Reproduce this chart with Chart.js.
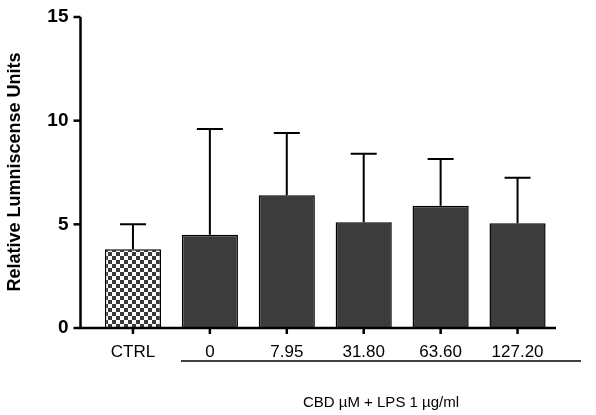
<!DOCTYPE html>
<html><head><meta charset="utf-8">
<script src="https://cdn.jsdelivr.net/npm/chart.js@4"></script>
<style>html,body{margin:0;padding:0;background:#fff}#w{width:596px;height:415px}</style>
</head><body><div id="w"><canvas id="c"></canvas></div>
<script>
const categories = ["CTRL","0","7.95","31.80","63.60","127.20"];
const means = [3.8,4.5,6.4,5.1,5.9,5.05];
const errUp = [5.0,9.6,9.4,8.4,8.15,7.25];
const yTicks = [0,5,10,15];
const groupLabel = "CBD µM + LPS 1 µg/ml";
const FONT = "'Liberation Sans', Arial, sans-serif";

const pc = document.createElement('canvas'); pc.width = 8; pc.height = 8;
const px = pc.getContext('2d'); px.fillStyle = '#fff'; px.fillRect(0,0,8,8);
px.fillStyle = '#3a3a3a'; px.fillRect(0,0,4,4); px.fillRect(4,4,4,4);
const checker = px.createPattern(pc,'repeat');

const GAP = 14;
const deco = {
  id:'deco',
  afterDatasetsDraw(ch){
    const c = ch.ctx, y = ch.scales.y, x = ch.scales.x, a = ch.chartArea;
    const ax = a.left - GAP;
    c.save(); c.strokeStyle = '#000'; c.lineWidth = 2;
    ch.getDatasetMeta(0).data.forEach((b,i)=>{
      const yt = y.getPixelForValue(means[i]), ye = y.getPixelForValue(errUp[i]);
      c.beginPath(); c.moveTo(b.x, yt); c.lineTo(b.x, ye);
      c.moveTo(b.x-13, ye); c.lineTo(b.x+13, ye); c.stroke();
    });
    c.lineWidth = 2.5;
    c.beginPath(); c.moveTo(ax, y.getPixelForValue(15)); c.lineTo(ax, y.getPixelForValue(0));
    c.lineTo(a.right, y.getPixelForValue(0)); c.stroke();
    c.fillStyle='#000'; c.font = 'bold 19px '+FONT; c.textAlign='right'; c.textBaseline='middle';
    yTicks.forEach(v=>{ const p=y.getPixelForValue(v);
      c.beginPath(); c.moveTo(ax-7,p); c.lineTo(ax,p); c.stroke();
      c.fillText(String(v), ax-12, p);
    });
    const b0 = y.getPixelForValue(0);
    categories.forEach((_,i)=>{ const p=x.getPixelForValue(i);
      c.beginPath(); c.moveTo(p,b0); c.lineTo(p,b0+6); c.stroke(); });
    c.lineWidth = 1.5;
    c.beginPath(); c.moveTo(181,361); c.lineTo(581,361); c.stroke();
    c.font = '15px '+FONT; c.textAlign='center';
    c.fillText(groupLabel, 381, 403);
    c.save(); c.translate(15, 172); c.rotate(-Math.PI/2);
    c.font = 'bold 18px '+FONT; c.fillText('Relative Lumniscense Units',0,0); c.restore();
    c.restore();
  }
};

new Chart(document.getElementById('c'),{
  type:'bar',
  data:{labels:categories,datasets:[{data:means,
    backgroundColor:categories.map((_,i)=>i===0?checker:'#3c3c3c'),
    borderColor:'#000',borderWidth:1.5,categoryPercentage:1,barPercentage:0.73}]},
  options:{animation:false,responsive:true,maintainAspectRatio:false,devicePixelRatio:1,
    layout:{padding:{left:0,right:40,top:17,bottom:57}},
    plugins:{legend:{display:false},tooltip:{enabled:false}},
    scales:{
      x:{grid:{display:false},border:{display:false},
        afterFit(s){s.height=30;},
        ticks:{color:'#000',font:{family:FONT,size:17},padding:6,maxRotation:0}},
      y:{min:0,max:15,afterFit(s){s.width=94.5;},grid:{display:false},border:{display:false},
        ticks:{display:false,stepSize:5}}
    }},
  plugins:[deco]
});
</script></body></html>
